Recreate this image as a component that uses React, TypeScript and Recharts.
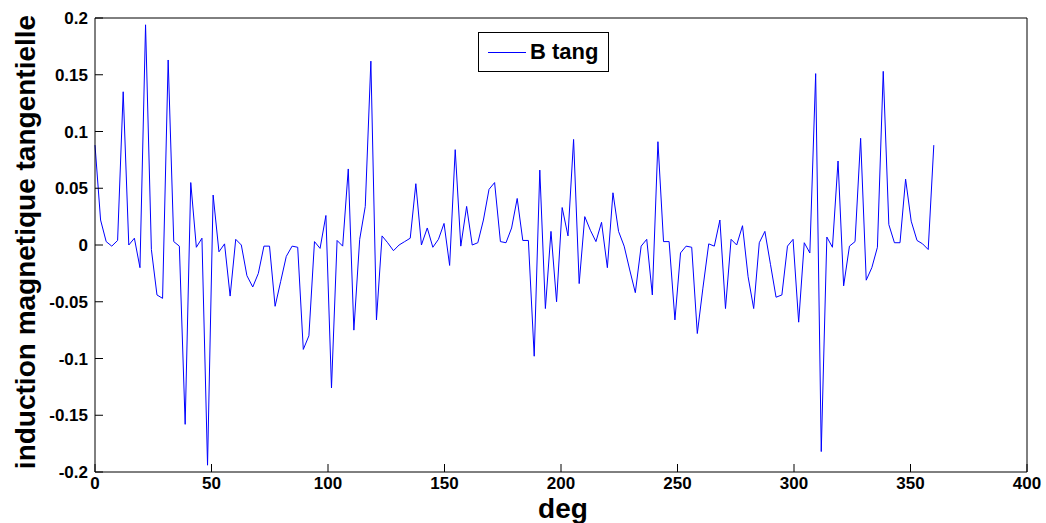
import React from 'react';
import { LineChart, Line, XAxis, YAxis } from 'recharts';

// angle grid (deg): 150 samples from 0 to 360
const degs = [
  0, 2.4, 4.8, 7.2, 9.7, 12.1, 14.5, 16.9, 19.3, 21.7,
  24.2, 26.6, 29.0, 31.4, 33.8, 36.2, 38.7, 41.1, 43.5, 45.9,
  48.3, 50.7, 53.2, 55.6, 58.0, 60.4, 62.8, 65.2, 67.7, 70.1,
  72.5, 74.9, 77.3, 79.7, 82.1, 84.6, 87.0, 89.4, 91.8, 94.2,
  96.6, 99.1, 101.5, 103.9, 106.3, 108.7, 111.1, 113.6, 116.0, 118.4,
  120.8, 123.2, 125.6, 128.1, 130.5, 132.9, 135.3, 137.7, 140.1, 142.6,
  145.0, 147.4, 149.8, 152.2, 154.6, 157.0, 159.5, 161.9, 164.3, 166.7,
  169.1, 171.5, 174.0, 176.4, 178.8, 181.2, 183.6, 186.0, 188.5, 190.9,
  193.3, 195.7, 198.1, 200.5, 203.0, 205.4, 207.8, 210.2, 212.6, 215.0,
  217.4, 219.9, 222.3, 224.7, 227.1, 229.5, 231.9, 234.4, 236.8, 239.2,
  241.6, 244.0, 246.4, 248.9, 251.3, 253.7, 256.1, 258.5, 260.9, 263.4,
  265.8, 268.2, 270.6, 273.0, 275.4, 277.9, 280.3, 282.7, 285.1, 287.5,
  289.9, 292.3, 294.8, 297.2, 299.6, 302.0, 304.4, 306.8, 309.3, 311.7,
  314.1, 316.5, 318.9, 321.3, 323.8, 326.2, 328.6, 331.0, 333.4, 335.8,
  338.3, 340.7, 343.1, 345.5, 347.9, 350.3, 352.8, 355.2, 357.6, 360.0,
];

// B tang values
const bTang = [
  0.088, 0.022, 0.003, -0.001, 0.004, 0.135, 0.0, 0.006, -0.02, 0.194,
  -0.004, -0.044, -0.047, 0.163, 0.003, -0.001, -0.158, 0.055, -0.002, 0.006,
  -0.194, 0.044, -0.006, 0.001, -0.045, 0.005, 0.0, -0.027, -0.037, -0.025,
  -0.001, -0.001, -0.054, -0.032, -0.01, -0.001, -0.002, -0.092, -0.08, 0.003,
  -0.003, 0.026, -0.126, 0.004, -0.001, 0.067, -0.075, 0.005, 0.034, 0.162,
  -0.066, 0.008, 0.002, -0.005, 0.0, 0.003, 0.006, 0.054, 0.0, 0.015,
  -0.002, 0.005, 0.019, -0.018, 0.084, -0.001, 0.034, 0.0, 0.002, 0.022,
  0.049, 0.055, 0.003, 0.002, 0.015, 0.041, 0.004, 0.004, -0.098, 0.066,
  -0.056, 0.012, -0.05, 0.033, 0.008, 0.093, -0.034, 0.025, 0.013, 0.003,
  0.02, -0.02, 0.046, 0.012, -0.001, -0.022, -0.042, -0.001, 0.005, -0.044,
  0.091, 0.003, 0.003, -0.066, -0.007, -0.001, -0.002, -0.078, -0.038, 0.001,
  -0.001, 0.022, -0.056, 0.005, 0.0, 0.017, -0.028, -0.056, 0.002, 0.012,
  -0.017, -0.046, -0.044, -0.001, 0.005, -0.068, 0.002, -0.007, 0.151, -0.182,
  0.007, -0.002, 0.074, -0.036, -0.001, 0.003, 0.094, -0.031, -0.02, -0.002,
  0.153, 0.018, 0.002, 0.002, 0.058, 0.021, 0.004, 0.001, -0.004, 0.088,
];

const xTicks = [0, 50, 100, 150, 200, 250, 300, 350, 400];
const yTicks = [-0.2, -0.15, -0.1, -0.05, 0, 0.05, 0.1, 0.15, 0.2];

const FONT = "'Liberation Sans', Arial, sans-serif";

const data = degs.map((deg, i) => ({ deg, b: bTang[i] }));

const tickStyle = { fill: '#000', fontSize: 17, fontWeight: 'bold', fontFamily: FONT };
const tickLine = { stroke: '#000', strokeWidth: 1 };

export default function App() {
  return (
    <div style={{ position: 'absolute', left: 0, top: 0, width: 1046, height: 523, background: '#fff' }}>
      <LineChart
        width={1046}
        height={523}
        data={data}
        margin={{ top: 17, right: 18, bottom: 21, left: 35 }}
      >
        <XAxis
          xAxisId="bottom"
          dataKey="deg"
          type="number"
          domain={[0, 400]}
          ticks={xTicks}
          height={30}
          stroke="#000"
          tickLine={tickLine}
          tickSize={-8}
          tickMargin={13}
          tick={tickStyle}
          interval={0}
        />
        <XAxis
          xAxisId="top"
          dataKey="deg"
          orientation="top"
          type="number"
          domain={[0, 400]}
          ticks={xTicks}
          height={1}
          stroke="#000"
          tickLine={tickLine}
          tickSize={-8}
          tick={false}
          interval={0}
        />
        <YAxis
          yAxisId="left"
          type="number"
          domain={[-0.2, 0.2]}
          ticks={yTicks}
          width={60}
          stroke="#000"
          tickLine={tickLine}
          tickSize={-8}
          tickMargin={15}
          tick={tickStyle}
          interval={0}
          tickFormatter={(v: number) => String(v)}
        />
        <YAxis
          yAxisId="right"
          orientation="right"
          type="number"
          domain={[-0.2, 0.2]}
          ticks={yTicks}
          width={1}
          stroke="#000"
          tickLine={tickLine}
          tickSize={-8}
          tick={false}
          interval={0}
        />
        <Line
          xAxisId="bottom"
          yAxisId="left"
          type="linear"
          dataKey="b"
          name="B tang"
          stroke="#0000ff"
          strokeWidth={1}
          dot={false}
          isAnimationActive={false}
        />
      </LineChart>
      {/* legend box */}
      <div
        style={{
          position: 'absolute',
          left: 478,
          top: 32,
          width: 129,
          height: 38,
          border: '1px solid #000',
          background: '#fff',
          display: 'flex',
          alignItems: 'center',
          fontFamily: FONT,
        }}
      >
        <div style={{ width: 38, height: 0, borderTop: '1px solid #0000ff', marginLeft: 9, marginRight: 4 }} />
        <span style={{ fontSize: 22, fontWeight: 'bold', color: '#000' }}>B tang</span>
      </div>
      <div
        style={{
          position: 'absolute',
          left: 26,
          top: 242,
          transform: 'translate(-50%, -50%) rotate(-90deg)',
          whiteSpace: 'nowrap',
          fontFamily: FONT,
          fontWeight: 'bold',
          fontSize: 28,
          color: '#000',
        }}
      >
        induction magnetique tangentielle
      </div>
      <div
        style={{
          position: 'absolute',
          left: 563,
          top: 509,
          transform: 'translate(-50%, -50%)',
          whiteSpace: 'nowrap',
          fontFamily: FONT,
          fontWeight: 'bold',
          fontSize: 28,
          color: '#000',
        }}
      >
        deg
      </div>
    </div>
  );
}
